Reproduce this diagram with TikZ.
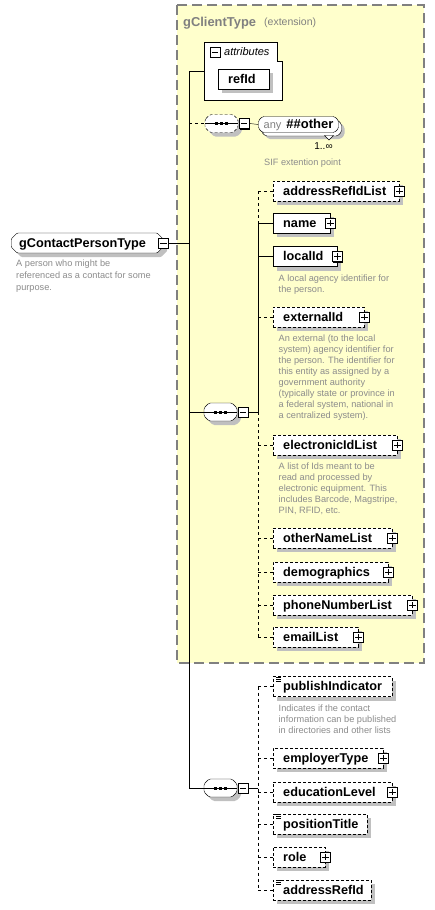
\documentclass[tikz,border=0pt]{standalone}
\usepackage{fontspec}
\setmainfont{Liberation Sans}
\usetikzlibrary{shapes.misc,shadows}
\definecolor{yfill}{RGB}{255,255,204}
\definecolor{yborder}{RGB}{128,128,128}
\definecolor{titlegray}{RGB}{128,128,128}
\definecolor{descgray}{RGB}{140,140,140}
\definecolor{shgray}{RGB}{192,192,192}
\newcommand\boxtext[2]{\makebox[#1pt][l]{#2}}
\newcommand\simpleicon[1]{%
  \foreach \d in {1,3,5} {\draw[line width=0.8pt] ([xshift=3pt,yshift=-\d pt]#1.north west) -- ++(5,0);}}
% octagon: #1 options, #2 centre, #3 half width, #4 half height, #5 chamfer
\newcommand\octshape[5]{%
  \pgfmathsetmacro\oa{#3-#5}\pgfmathsetmacro\ob{#4-#5}%
  \path[#1, shift={#2}] (-#3pt,\ob pt) -- (-\oa pt,#4pt) -- (\oa pt,#4pt) -- (#3pt,\ob pt) -- (#3pt,-\ob pt) -- (\oa pt,-#4pt) -- (-\oa pt,-#4pt) -- (-#3pt,-\ob pt) -- cycle;}
% compositor: #1 name, #2 position, #3 border options
\newcommand\compnode[3]{%
  \node[minimum width=33pt, minimum height=18pt] (#1) at #2 {};
  \octshape{fill=shgray, rounded corners=1.5pt}{([xshift=4pt,yshift=-4pt]#1.center)}{16.5}{9}{5}
  \octshape{draw, fill=white, rounded corners=1.5pt, #3}{(#1.center)}{16.5}{9}{5}
  \draw (#1.west) -- (#1.east);
  \foreach \s in {-5,0,5} {\fill ([xshift=\s pt]#1.center) +(-1.9pt,-1.5pt) rectangle +(1.9pt,1.5pt);}
}
\begin{document}
\begin{tikzpicture}[x=1pt,y=-1pt,
  every node/.style={inner sep=0pt},
  shad/.style={general shadow={fill=shgray, shadow xshift=4pt, shadow yshift=-4pt}},
  elem/.style={shad, draw, fill=white, anchor=west, minimum height=20pt, inner xsep=10pt, inner ysep=0pt,
    text height=9.5pt, text depth=1.5pt, font=\bfseries\fontsize{12.7}{14}\selectfont},
  optional/.style={dash pattern=on 3pt off 2pt},
  dashline/.style={dash pattern=on 3pt off 3pt},
  pbox/.style={draw, fill=white, line width=1pt, minimum size=10pt, inner sep=0pt,
    general shadow={fill=black, shadow xshift=1pt, shadow yshift=-1pt},
    path picture={\draw[line width=0.9pt] (path picture bounding box.center) +(-3.2pt,0) -- +(3.2pt,0) +(0,-3.2pt) -- +(0,3.2pt);}},
  mbox/.style={draw, fill=white, line width=1pt, minimum size=10pt, inner sep=0pt,
    general shadow={fill=black, shadow xshift=1pt, shadow yshift=-1pt},
    path picture={\draw[line width=0.9pt] (path picture bounding box.center) +(-3.2pt,0) -- +(3.2pt,0);}},
  desc/.style={anchor=north west, align=left, text=descgray, font=\fontsize{9.2}{11}\selectfont},
]
\useasboundingbox (0,0) rectangle (435,910);
\fill[white] (0,0) rectangle (435,910);

% extension box
\draw[fill=yfill, draw=yborder, line width=1.3pt, dash pattern=on 10pt off 5pt] (177,5) rectangle (424,663);
\node[anchor=base west, text=titlegray, font=\bfseries\fontsize{12.9}{14}\selectfont] (title) at (183,26.5) {gClientType};
\node[anchor=base west, text=titlegray, font=\fontsize{10.5}{12}\selectfont] (extn) at (264,25) {(extension)};

% attributes
\draw[fill=white, line width=0.9pt] (204,42) -- (277,42) -- (277,61) -- (282,61) -- (282,100) -- (204,100) -- cycle;
\coordinate (attrW) at (204,71);
\node[mbox] (attrM) at (215,52) {};
\node[anchor=base west, font=\itshape\fontsize{11}{12}\selectfont] (attrT) at (224,55.5) {attributes};
\node[elem] (refid) at (218,79) {\boxtext{31}{refId}};

% root
\node[shad, chamfered rectangle, chamfered rectangle sep=3pt, rounded corners=1pt, draw, fill=white, anchor=west, minimum height=20pt, inner xsep=5pt,
  text height=9.5pt, text depth=1.5pt, font=\bfseries\fontsize{12.7}{14}\selectfont] (root) at (11,243) {\boxtext{136}{gContactPersonType}};
\node[mbox] (rootM) at (root.east) {};
\node[desc, font=\fontsize{9.2}{11.8}\selectfont] (rootD) at (16,260) {A person who might be\\referenced as a contact for some\\purpose.};

% main spine
\coordinate (vtop) at (189,71);
\coordinate (vbot) at (189,788);

% any
\compnode{anyseq}{(221.5,123.5)}{dash pattern=on 3pt off 2pt}
\node[mbox] (anyM) at ([xshift=6pt]anyseq.east) {};
\octshape{fill=shgray, rounded corners=1.5pt}{(304.5,131)}{40}{8}{4}
\octshape{draw, fill=white, rounded corners=1.5pt}{(301.5,128)}{40}{8}{4}
\draw[fill=white] (324.5,135.5) -- (333.5,135.5) -- (329,140) -- cycle;
\octshape{draw, fill=white, rounded corners=1.5pt}{(298.5,124.5)}{40}{8}{4}
\node[minimum width=80pt, minimum height=16pt] (any) at (298.5,124.5) {{\color{titlegray}\fontsize{11}{12}\selectfont any}\hspace{5pt}{\bfseries\fontsize{13}{14}\selectfont\#\#other}};
\node[font=\fontsize{10}{12}\selectfont] (mult) at (323.5,146.5) {1..∞};
\node[desc] (anyD) at (264,159) {SIF extention point};

% sequence A
\compnode{seqA}{(220.5,412)}{}
\node[mbox] (seqAM) at ([xshift=6pt]seqA.east) {};
\coordinate (va) at (258,412);

\node[elem, optional] (addr) at (273,191) {\boxtext{106}{addressRefIdList}};
\node[pbox] (addrP) at (addr.east) {};
\node[elem] (name) at (273,223) {\boxtext{37}{name}};
\node[pbox] (nameP) at (name.east) {};
\node[elem] (local) at (273,256.5) {\boxtext{44}{localId}};
\node[pbox] (localP) at (local.east) {};
\node[desc] (localD) at (278.5,274.5) {A local agency identifier for\\the person.};
\node[elem, optional] (extid) at (273,317) {\boxtext{71}{externalId}};
\node[pbox] (extidP) at (extid.east) {};
\node[desc] (extidD) at (278.5,335) {An external (to the local\\system) agency identifier for\\the person. The identifier for\\this entity as assigned by a\\government authority\\(typically state or province in\\a federal system, national in\\a centralized system).};
\node[elem, optional] (elec) at (273,445) {\boxtext{104}{electronicIdList}};
\node[pbox] (elecP) at (elec.east) {};
\node[desc] (elecD) at (278.5,463) {A list of Ids meant to be\\read and processed by\\electronic equipment. This\\includes Barcode, Magstripe,\\PIN, RFID, etc.};
\node[elem, optional] (other) at (273,538) {\boxtext{99}{otherNameList}};
\node[pbox] (otherP) at (other.east) {};
\node[elem, optional] (demo) at (273,572) {\boxtext{95}{demographics}};
\node[pbox] (demoP) at (demo.east) {};
\node[elem, optional] (phone) at (273,605) {\boxtext{119}{phoneNumberList}};
\node[pbox] (phoneP) at (phone.east) {};
\node[elem, optional] (email) at (273,637) {\boxtext{65}{emailList}};
\node[pbox] (emailP) at (email.east) {};

% sequence B
\compnode{seqB}{(220.5,788)}{}
\node[mbox] (seqBM) at ([xshift=6pt]seqB.east) {};
\coordinate (vb) at (258,788);

\node[elem, optional] (pub) at (273,686.5) {\boxtext{99}{publishIndicator}};
\simpleicon{pub}
\node[desc] (pubD) at (278.5,704.5) {Indicates if the contact\\information can be published\\in directories and other lists};
\node[elem, optional] (emp) at (273,758) {\boxtext{90}{employerType}};
\node[pbox] (empP) at (emp.east) {};
\node[elem, optional] (edu) at (273,792) {\boxtext{99}{educationLevel}};
\node[pbox] (eduP) at (edu.east) {};
\node[elem, optional] (pos) at (273,824) {\boxtext{74}{positionTitle}};
\simpleicon{pos}
\node[elem, optional] (role) at (273,857) {\boxtext{32}{role}};
\node[pbox] (roleP) at (role.east) {};
\node[elem, optional] (addrid) at (273,890) {\boxtext{78}{addressRefId}};
\simpleicon{addrid}

% connectors
\draw (vtop) -- (attrW);
\draw (vtop) -- (vbot);
\draw (rootM.east) -- (rootM.east -| vtop);
\draw[dashline] (vtop |- anyseq.west) -- (anyseq.west);
\draw (anyM.east) -- (any.west);
\draw (vtop |- seqA.west) -- (seqA.west);
\draw (seqAM.east) -- (va);
\draw[dashline] (va |- addr.west) -- (va |- name.west);
\draw (va |- name.west) -- (va);
\draw[dashline] (va) -- (va |- email.west);
\draw[dashline] (va |- addr.west) -- (addr.west);
\draw (va |- name.west) -- (name.west);
\draw (va |- local.west) -- (local.west);
\draw[dashline] (va |- extid.west) -- (extid.west);
\draw[dashline] (va |- elec.west) -- (elec.west);
\draw[dashline] (va |- other.west) -- (other.west);
\draw[dashline] (va |- demo.west) -- (demo.west);
\draw[dashline] (va |- phone.west) -- (phone.west);
\draw[dashline] (va |- email.west) -- (email.west);
\draw (vbot) -- (seqB.west);
\draw (seqBM.east) -- (vb);
\draw[dashline] (vb |- pub.west) -- (vb |- addrid.west);
\draw[dashline] (vb |- pub.west) -- (pub.west);
\draw[dashline] (vb |- emp.west) -- (emp.west);
\draw[dashline] (vb |- edu.west) -- (edu.west);
\draw[dashline] (vb |- pos.west) -- (pos.west);
\draw[dashline] (vb |- role.west) -- (role.west);
\draw[dashline] (vb |- addrid.west) -- (addrid.west);
\end{tikzpicture}
\end{document}
